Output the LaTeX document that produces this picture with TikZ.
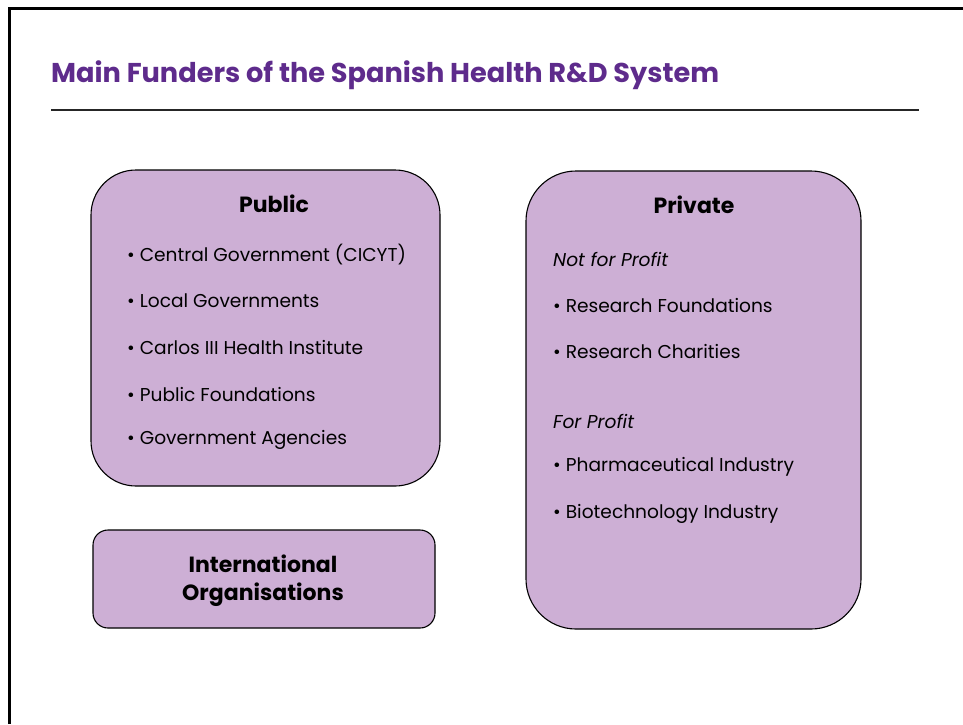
\documentclass[tikz,border=0pt]{standalone}
\usepackage{fontspec}
\setmainfont{Poppins}
\definecolor{boxfill}{RGB}{205,175,213}
\definecolor{titlepurple}{RGB}{94,43,140}
\begin{document}
\begin{tikzpicture}[x=1pt,y=-1pt,
  fbox/.style={draw=black,line width=1.1pt,fill=boxfill},
  head/.style={font=\fontsize{22}{26}\selectfont\bfseries,anchor=center},
  item/.style={font=\fontsize{18.6}{22}\selectfont,anchor=west,inner sep=0pt},
  sub/.style={font=\fontsize{18.6}{22}\selectfont\itshape,anchor=west,inner sep=0pt}]
\useasboundingbox (0,0) rectangle (963,724);
\fill[white] (0,0) rectangle (963,724);
% frame
\draw[line width=3pt] (9,724) -- (9,8.5) -- (963,8.5);
% title
\node[anchor=west,inner sep=0pt,text=titlepurple,font=\fontsize{27.2}{32}\selectfont\bfseries] (title) at (51,75) {Main Funders of the Spanish Health R\&D System};
\draw[line width=2pt,black!85] (51,110) -- (919,110);
% boxes
\draw[fbox,rounded corners=45pt] (91,170) rectangle (440,486);
\draw[fbox,rounded corners=50pt] (526,171) rectangle (861,629);
\draw[fbox,rounded corners=15pt] (93,530) rectangle (435,628);
% public
\node[head] (pub) at (274,204) {Public};
\node[item] (p1) at (127,255) {• Central Government (CICYT)};
\node[item] (p2) at (127,301) {• Local Governments};
\node[item] (p3) at (127,347) {• Carlos III Health Institute};
\node[item] (p4) at (127,394) {• Public Foundations};
\node[item] (p5) at (127,440) {• Government Agencies};
% private
\node[head] (priv) at (694,205) {Private};
\node[sub] (nfp) at (553,259) {Not for Profit};
\node[item] (r1) at (553,305) {• Research Foundations};
\node[item] (r2) at (553,351) {• Research Charities};
\node[sub] (fp) at (553,421) {For Profit};
\node[item] (r3) at (553,467) {• Pharmaceutical Industry};
\node[item] (r4) at (553,514) {• Biotechnology Industry};
% international
\node[head,align=center,font=\fontsize{22}{28}\selectfont\bfseries] (intl) at (263,581) {International\\Organisations};
\end{tikzpicture}
\end{document}
